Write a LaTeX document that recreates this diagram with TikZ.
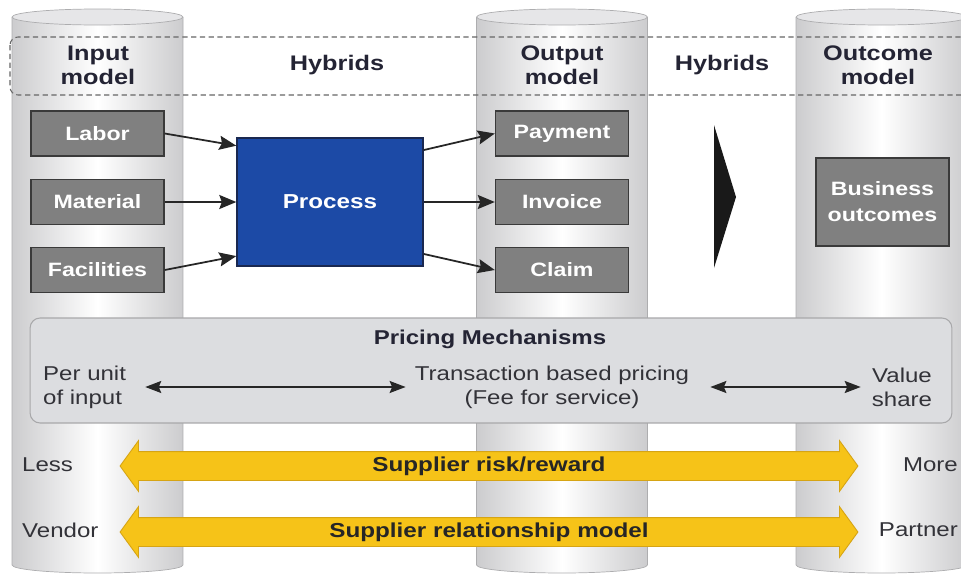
\documentclass[tikz,border=0pt]{standalone}
\usepackage{fontspec}
\setmainfont{Liberation Sans}[FakeStretch=1.2]
\usetikzlibrary{arrows.meta, positioning, shapes.arrows}
\definecolor{boxgray}{RGB}{128,128,128}
\definecolor{boxline}{RGB}{58,58,58}
\definecolor{procblue}{RGB}{28,74,166}
\definecolor{procline}{RGB}{26,40,80}
\definecolor{bandyellow}{RGB}{246,195,24}
\definecolor{bandline}{RGB}{214,164,20}
\definecolor{pricefill}{RGB}{220,221,224}
\definecolor{priceline}{RGB}{168,168,170}
\definecolor{cylside}{RGB}{204,204,206}
\definecolor{cyltop}{RGB}{230,230,232}
\definecolor{headtext}{RGB}{36,36,52}
\definecolor{bodytext}{RGB}{50,50,56}
\tikzset{
  item/.style={
    rectangle, minimum width=2.66cm, minimum height=0.9cm,
    text centered, draw=boxline, line width=0.8pt, fill=boxgray,
    text=white, font=\fontsize{11}{13}\selectfont\bfseries
  },
  process/.style={
    rectangle, minimum width=3.72cm, minimum height=2.56cm,
    text centered, draw=procline, line width=0.8pt, fill=procblue,
    text=white, font=\fontsize{11.5}{13}\selectfont\bfseries
  },
  header/.style={
    align=center, text=headtext, font=\fontsize{12}{13.6}\selectfont\bfseries
  },
  pricetext/.style={
    text=bodytext, font=\fontsize{11.4}{13.6}\selectfont
  },
  band/.style={
    double arrow, double arrow head extend=0.22cm, double arrow tip angle=108,
    minimum height=14.76cm, minimum width=1cm, text height=0.3cm, text depth=0.1cm,
    inner ysep=0.08cm, fill=bandyellow, draw=bandline, line width=0.5pt,
    text=black!85, font=\fontsize{11.5}{13}\selectfont\bfseries
  },
  flow/.style={
    -{Stealth[length=0.34cm, width=0.28cm, inset=0.05cm]}, line width=1pt, color=black!85
  },
  twoway/.style={
    {Stealth[length=0.32cm, width=0.24cm, inset=0.05cm]}-{Stealth[length=0.32cm, width=0.24cm, inset=0.05cm]},
    line width=1pt, color=black!85
  }
}

\begin{document}
\begin{tikzpicture}[x=0.02cm, y=-0.02cm]
\useasboundingbox (0,0) rectangle (961,575);
\foreach \cx in {97.5, 562, 881.5} {
  \shade[left color=cylside, right color=cylside, middle color=white]
    (\cx-85.5,17) -- (\cx-85.5,565) arc[start angle=180, end angle=360, x radius=1.71cm, y radius=0.16cm] -- (\cx+85.5,17) -- cycle;
  \draw[cylside!85!black, line width=0.4pt]
    (\cx-85.5,17) -- (\cx-85.5,565) arc[start angle=180, end angle=360, x radius=1.71cm, y radius=0.16cm] -- (\cx+85.5,17);
  \draw[cylside!85!black, fill=cyltop, line width=0.4pt] (\cx,17) ellipse[x radius=1.71cm, y radius=0.16cm];
}
\draw[black!60, densely dashed, line width=0.6pt, rounded corners=0.16cm] (10,37) rectangle (990,95);

\node[header] (inputhead) at (98,65) {Input\\model};
\node[header] (hybridsa) at (337,65) {Hybrids};
\node[header] (outputhead) at (562,65) {Output\\model};
\node[header] (hybridsb) at (722,65) {Hybrids};
\node[header] (outcomehead) at (878,65) {Outcome\\model};

\node[item] (labor) at (97.5,133.5) {Labor};
\node[item] (material) at (97.5,202) {Material};
\node[item] (facilities) at (97.5,270) {Facilities};
\node[process] (process) at (330,202) {Process};
\node[item] (payment) at (562,133.5) {Payment};
\node[item] (invoice) at (562,202) {Invoice};
\node[item] (claim) at (562,270) {Claim};
\node[item, minimum height=1.76cm, align=center, font=\fontsize{11}{14.7}\selectfont\bfseries] (business) at (882.5,202) {Business\\outcomes};

\draw[flow] (labor.east) -- (process.149);
\draw[flow] (material.east) -- (process.west);
\draw[flow] (facilities.east) -- (process.210);
\draw[flow] (process.29) -- (payment.west);
\draw[flow] (process.east) -- (invoice.west);
\draw[flow] (process.-29) -- (claim.west);

\fill[black!90] (714,125) -- (736,197) -- (714,268) -- cycle;

\node[rectangle, rounded corners=0.2cm, minimum width=18.44cm, minimum height=2.1cm, fill=pricefill, draw=priceline, line width=0.6pt] (pricing) at (491,370.5) {};
\node[pricetext, font=\fontsize{11.4}{13.6}\selectfont\bfseries, text=headtext] (pricetitle) at (490,339) {Pricing Mechanisms};
\node[pricetext, anchor=west, align=left] (perunit) at (37,387) {Per unit\\of input};
\node[pricetext, align=center] (transaction) at (552,387) {Transaction based pricing\\(Fee for service)};
\node[pricetext, align=center] (valueshare) at (902,387) {Value\\share};
\draw[twoway] ([xshift=0.26cm]perunit.east) -- ([xshift=-0.06cm]transaction.west);
\draw[twoway] ([xshift=0.3cm]transaction.east) -- ([xshift=-0.1cm]valueshare.west);

\node[band] (risk) at (489,466) {Supplier risk/reward};
\node[band] (relation) at (489,532) {Supplier relationship model};
\node[pricetext, anchor=west] (less) at (16,465) {Less};
\node[pricetext, anchor=west] (vendor) at (16,530) {Vendor};
\node[pricetext, anchor=east] (more) at (964,465) {More};
\node[pricetext, anchor=east] (partner) at (964,530) {Partner};
\end{tikzpicture}
\end{document}
